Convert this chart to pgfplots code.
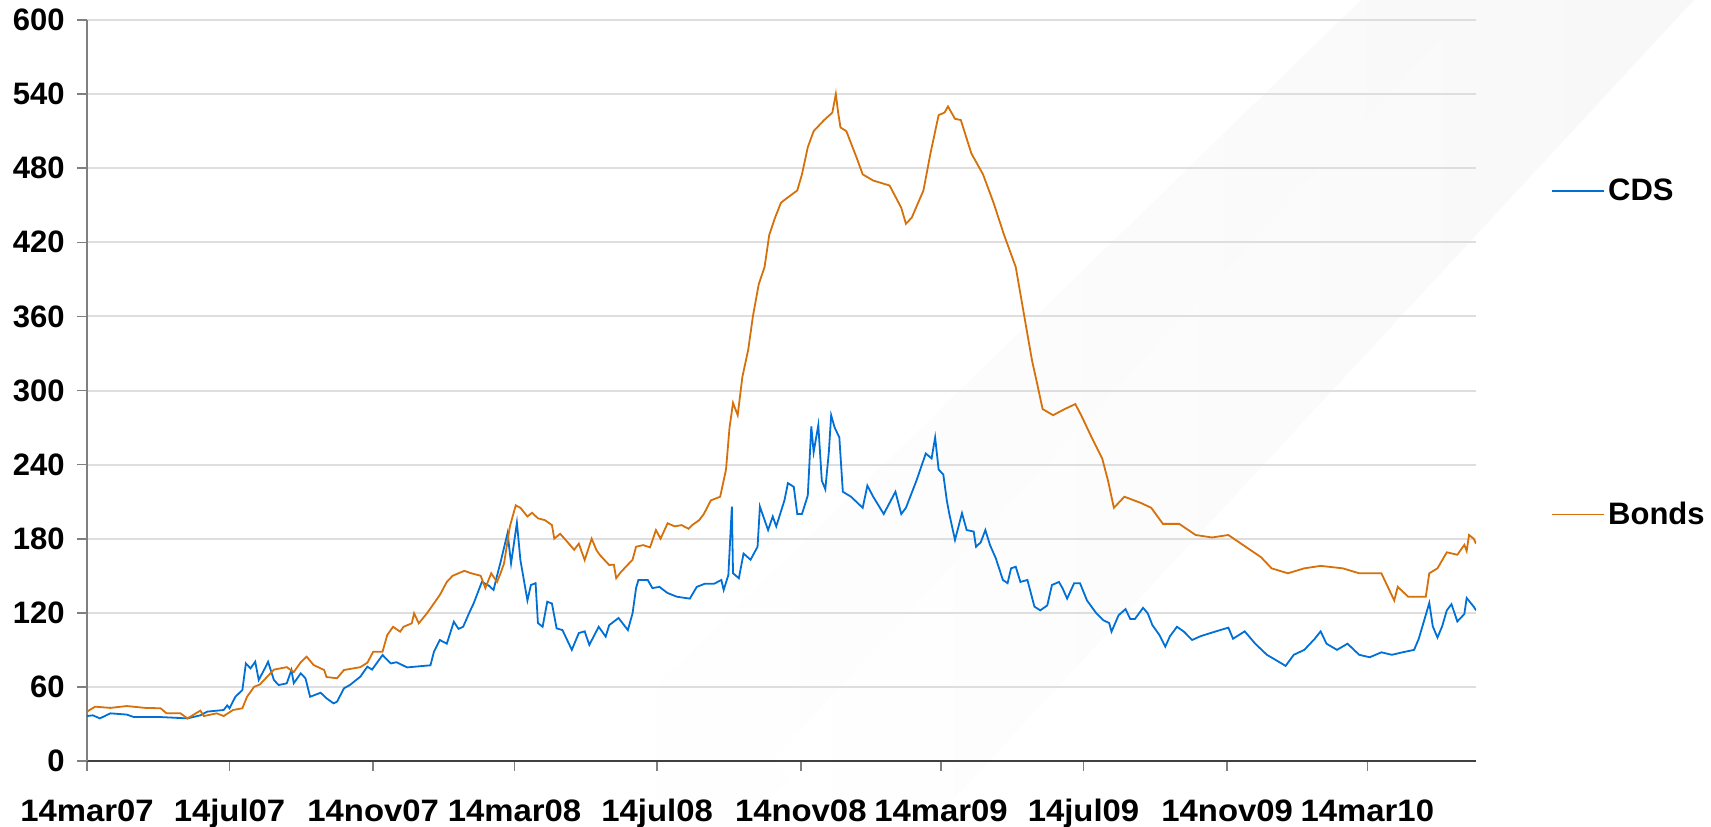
\documentclass[border=0pt]{standalone}
\usepackage{pgfplots}
\pgfplotsset{compat=1.18}
\usepackage{fontspec}
\setmainfont{Liberation Sans}
\newfontfamily\xlblfont[FakeStretch=1.06]{Liberation Sans}
\definecolor{cdsblue}{RGB}{0,112,214}
\definecolor{bondorange}{RGB}{214,112,10}
\definecolor{gridgray}{RGB}{222,222,222}
\begin{document}
\begin{tikzpicture}
\useasboundingbox (-43.5pt,-32.5pt) rectangle (812pt,380.5pt);
\begin{scope}[shift={(327pt,-32.5pt)}, rotate=-45.8]
\shade[left color=white, right color=black!4] (-80pt,-30pt) rectangle (0pt,900pt);
\end{scope}
\begin{scope}[shift={(421pt,-32.5pt)}, rotate=-42.8]
\shade[left color=white, right color=black!4] (-80pt,-30pt) rectangle (0pt,800pt);
\end{scope}
\begin{axis}[
  at={(0pt,0pt)}, anchor=south west,
  scale only axis, width=694.5pt, height=370.5pt,
  xmin=0, xmax=1189, ymin=0, ymax=600,
  axis x line*=bottom, axis y line*=left,
  axis line style={-},
  x axis line style={black!75, line width=0.8pt},
  y axis line style={black!50, line width=0.8pt},
  tick align=outside, major tick length=5pt,
  tick style={black!50, line width=0.8pt},
  ytick={0,60,...,600},
  xtick={0,122,245,366,488,611,731,853,976,1096},
  xticklabels={14mar07,14jul07,14nov07,14mar08,14jul08,14nov08,14mar09,14jul09,14nov09,14mar10},
  /pgf/number format/assume math mode=true,
  ymajorgrids, grid style={gridgray, line width=1pt},
  yticklabel style={font=\fontsize{15.5}{18}\selectfont\bfseries, xshift=-2.7pt},
  xticklabel style={font=\xlblfont\fontsize{15.5}{18}\selectfont\bfseries, anchor=base, yshift=-25pt},
  legend style={at={(1.054,0.79)}, anchor=north west, draw=none, fill=none,
    font=\fontsize{15.5}{18}\selectfont\bfseries, row sep=146pt, inner sep=0pt,
    nodes={inner sep=1.5pt}},
  legend cell align=left,
  legend image code/.code={\draw[#1] (0pt,0pt) -- (26pt,0pt);},
]
\addplot[cdsblue, line width=0.9pt] coordinates {
(0,36.4)(5,37)(11,34.5)(20,38.6)(34,37.6)(40,35.6)(63,35.6)(86,34.5)(97,37)(103,40)
(117,41.3)(120,45)(122,42.7)(127,52)(133,57.5)(136,79)(140,75)(144,80.4)(147,65.6)
(153,76.4)(155,80.4)(160,65.6)(164,61.5)(171,62.9)(175,73.7)(177,63)(183,71)(187,67)
(191,52)(200,55.3)(205,50.8)(211,46.7)(214,48)(220,58.9)(225,61.5)(234,68.3)(240,76.4)
(244,74)(253,85.8)(260,79)(265,80)(274,75.8)(294,77.5)(297,88.5)(302,98)(308,95)
(314,112.8)(318,107)(322,108.7)(327,119.6)(331,127.7)(338,145)(344,142)(348,138.5)
(351,150)(354,161)(360,184.6)(363,160)(368,193)(371,162.7)(377,130)(380,142.5)(384,144)
(386,111.7)(390,108.7)(394,129)(398,127.5)(402,107.4)(407,106)(411,98)(415,90)
(421,103.6)(426,105)(430,94)(438,108.7)(444,100.7)(447,110)(455,115.8)(463,106)
(467,119.6)(470,140)(472,146.6)(480,146.6)(484,140)(490,141)(497,136)(505,133)
(516,131.5)(522,141)(529,143.6)(537,143.6)(543,146.6)(545,138.5)(549,150.6)(552,206)
(553,152)(558,148)(562,168)(568,163)(574,173.5)(576,206)(583,187)(587,198)(590,190)
(597,211)(600,225)(605,222)(608,200)(612,200)(617,215)(620,271)(622,250)(626,272)
(629,227)(632,220)(635,250)(637,280)(640,270)(644,262)(647,218)(654,214)(664,205)
(668,223)(673,214)(682,200)(687,209)(692,218)(697,200)(701,205)(710,227)(718,249)
(723,245)(726,262)(729,236)(733,232)(736,211)(738,200.7)(743,179)(749,200.7)(753,187)
(759,185.8)(761,173.5)(765,177)(769,187)(773,174.8)(778,164)(784,146.6)(788,144)
(791,156)(795,157.3)(799,145)(805,146.6)(811,125)(816,122)(822,126)(826,142.5)
(832,145)(835,140)(839,131.5)(845,144)(850,144)(856,130)(864,119.6)(870,114)
(875,111.7)(877,104.7)(883,118)(889,123)(893,115)(897,115)(904,124)(908,119.6)
(912,110)(918,102)(923,92.6)(927,101)(933,108.7)(939,104.7)(946,98)(953,101)
(963,104)(977,108)(981,99)(991,105)(1000,95)(1010,86)(1019,81)(1026,77)(1033,86)
(1042,90)(1051,99)(1056,105)(1061,95)(1070,90)(1079,95)(1089,86)(1098,84)(1108,88)
(1117,86)(1126,88)(1136,90)(1140,99)(1149,128)(1152,109)(1156,100)(1160,109)
(1164,122)(1168,127)(1173,113)(1179,119)(1181,132)(1187,125)(1189,122)
};
\addlegendentry{CDS}
\addplot[bondorange, line width=0.9pt] coordinates {
(0,40)(7,44)(20,43)(34,44.5)(50,43)(63,42.7)(68,38.6)(80,38.6)(86,34.5)(97,40.8)
(100,36.4)(111,38.6)(117,36.4)(125,41.3)(133,42.7)(137,52)(143,60)(148,62)(154,68)
(160,74)(171,76)(177,72)(183,80)(188,84.5)(194,77.7)(203,73.7)(205,68)(214,67)
(220,73.7)(234,76)(240,79.6)(245,88.5)(253,88.5)(257,102)(262,108.7)(268,104.7)
(271,108.7)(278,111.5)(280,119.6)(284,111.5)(291,119.6)(302,134.4)(308,145)
(313,150)(323,154)(329,152)(337,150)(341,140)(346,152)(351,145)(354,152)(357,160)
(362,190)(367,207)(371,205)(377,198)(381,201)(386,196.5)(392,195)(398,191)(400,180)
(405,184)(411,177.6)(417,171)(421,176)(426,162.7)(432,180)(436,171)(439,166.8)
(447,158.7)(451,159)(453,148)(457,153)(461,157)(467,163)(470,173.5)(476,174.8)
(482,173)(487,187)(491,180)(497,192.5)(503,190)(509,191)(515,188)(518,191)(524,195)
(528,200)(534,211)(542,214)(547,236)(550,270)(553,290)(557,280)(561,311)(566,333)
(570,360)(575,386)(580,400)(584,426)(589,440)(594,452)(598,455)(608,462)(612,475)
(617,497)(622,510)(631,519)(638,525)(641,540)(643,525)(645,513)(650,510)(659,488)
(664,475)(673,470)(687,466)(697,448)(701,435)(706,440)(716,462)(722,492)(729,523)
(734,525)(737,530)(743,520)(748,519)(757,492)(767,475)(776,452)(785,426)(795,400)
(804,351)(809,324)(813,307)(818,285)(827,280)(837,285)(846,289)(851,280)(860,262)
(869,245)(874,227)(879,205)(888,214)(902,209)(911,205)(921,192)(935,192)(949,183)
(963,181)(977,183)(991,174)(1005,165)(1014,156)(1028,152)(1042,156)(1056,158)
(1075,156)(1089,152)(1108,152)(1119,130)(1122,141)(1131,133)(1146,133)(1149,152)
(1156,156)(1164,169)(1173,167)(1179,175)(1181,170)(1183,183)(1187,180)(1189,176)
};
\addlegendentry{Bonds}
\end{axis}
\end{tikzpicture}
\end{document}
